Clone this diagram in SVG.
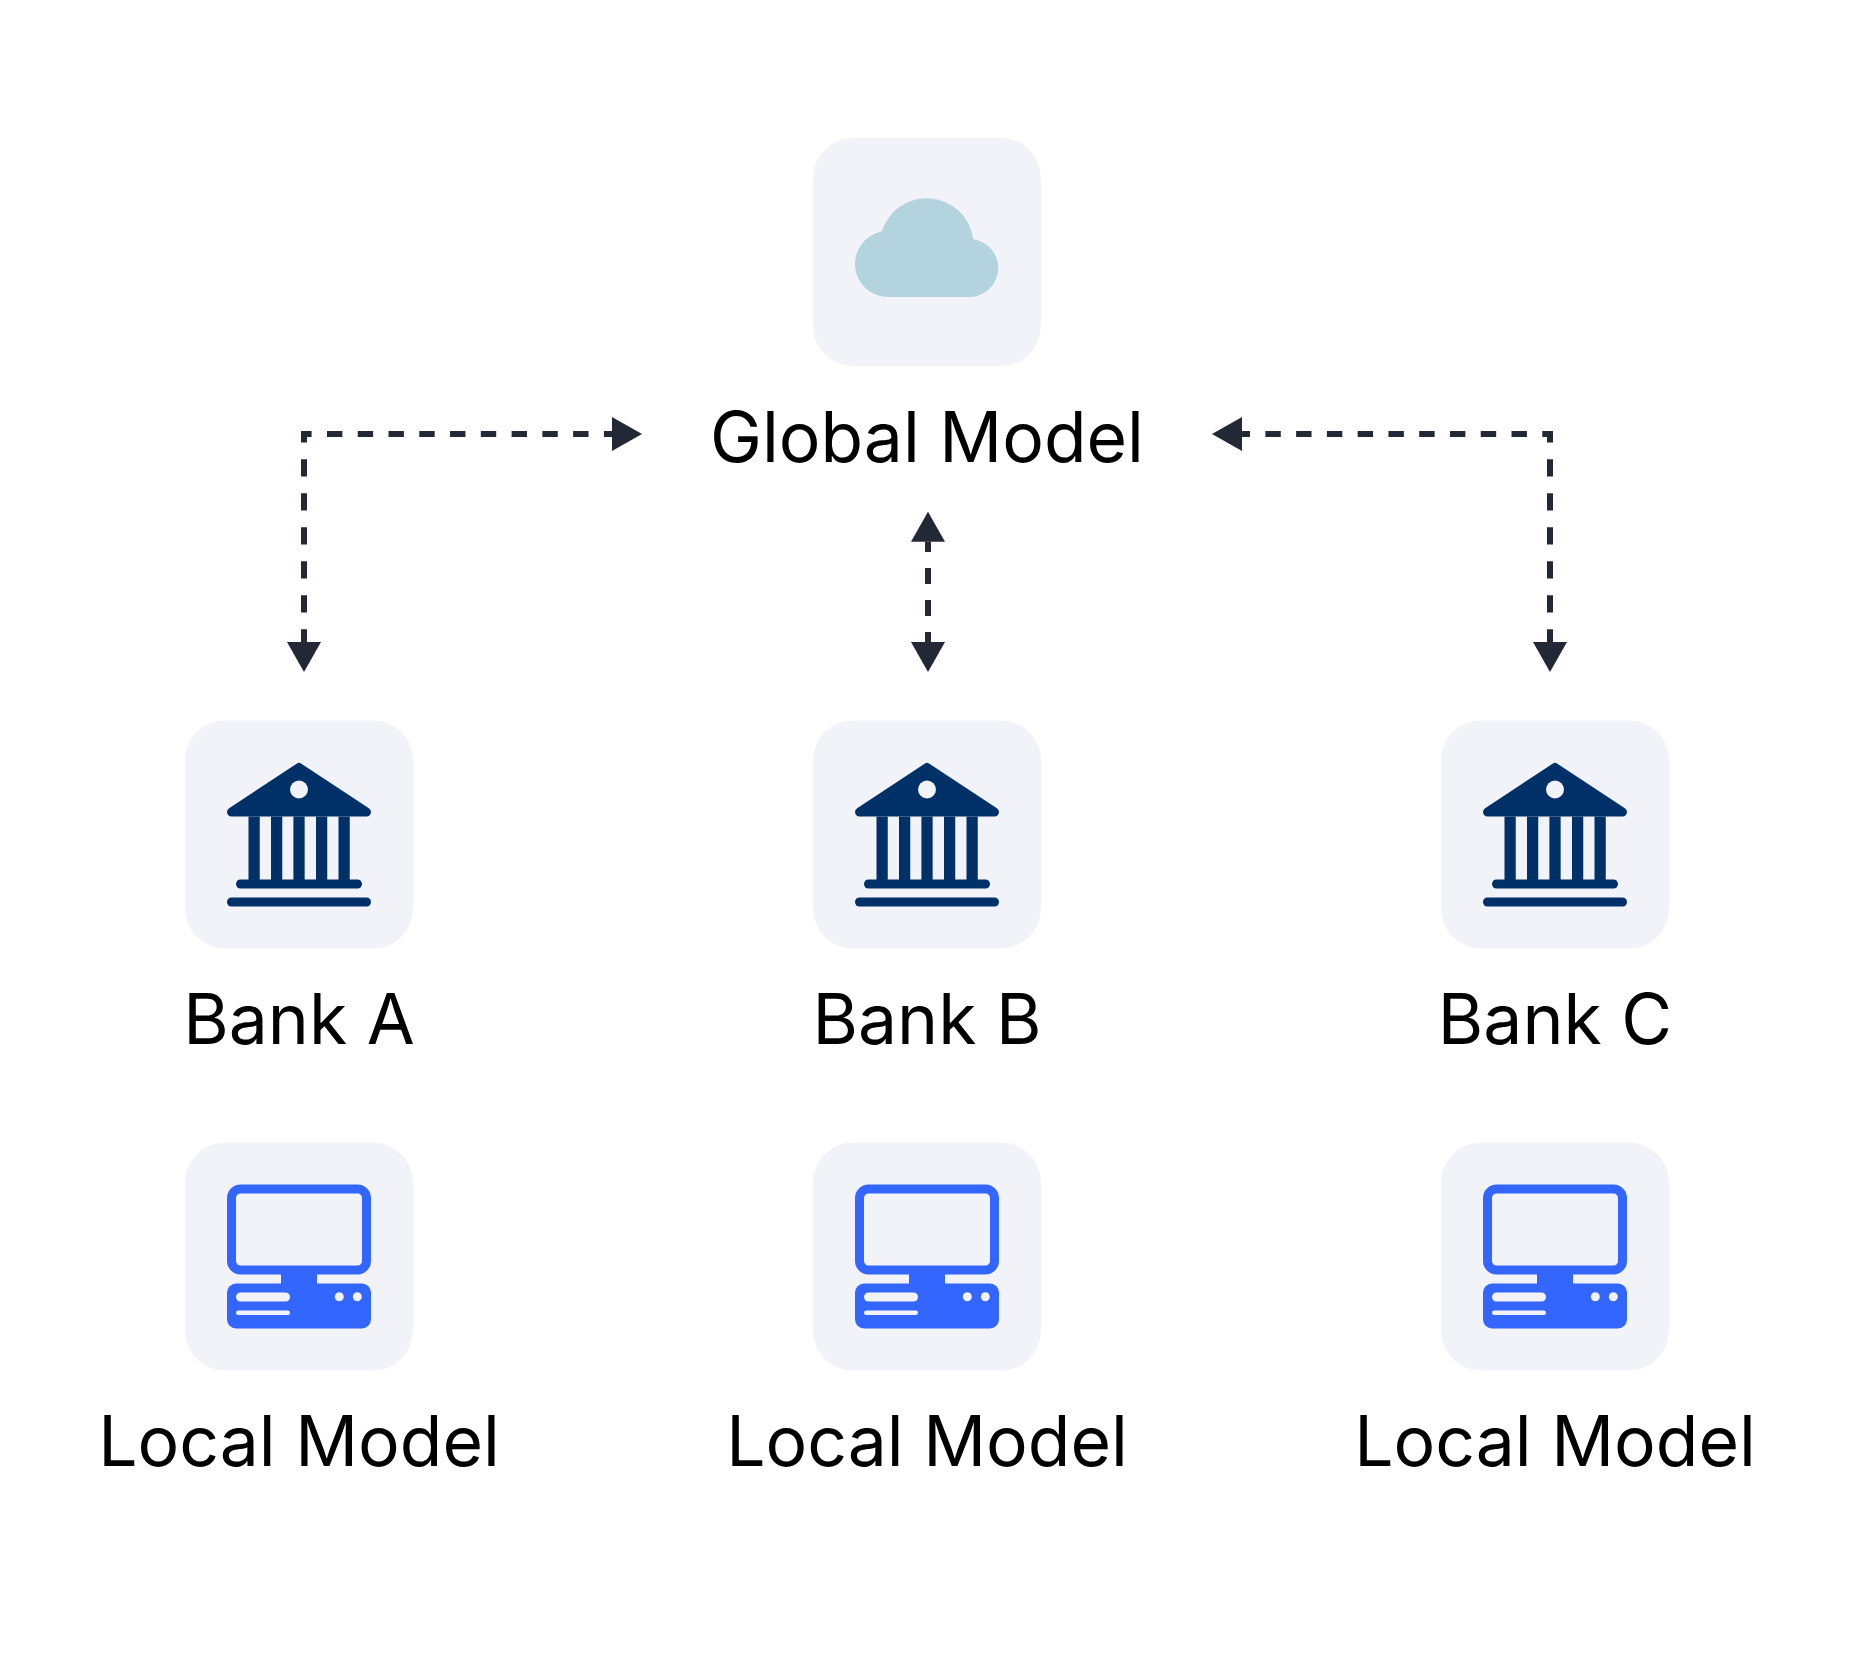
<svg xmlns="http://www.w3.org/2000/svg" width="1854" height="1654" viewBox="0 0 1854 1654">
<style>
.tile{fill:#f1f3f8}
.lbl{font-family:Inter,"Liberation Sans",sans-serif;font-size:69.6px;fill:#000;text-anchor:middle}
.bank{fill:#003068}
.bank .cut{fill:#f1f3f8}
.pc{fill:#3366ff}
.pc .cut{fill:#f1f3f8}
.conn{fill:none;stroke:#232836;stroke-width:6;marker-end:url(#ah)}
</style>
<defs>
<marker id="ah" markerUnits="userSpaceOnUse" viewBox="0 0 30 34" refX="0" refY="17" markerWidth="30" markerHeight="34" orient="auto-start-reverse"><path d="M0 0L30 17L0 34Z" fill="#232836"/></marker>
<g id="bankIcon" class="bank">
<path d="M70 43Q72 41.700 74 43L141.500 87.400Q144 89 144 91.500A4.500 4.500 0 0 1 139.500 96H4.500A4.500 4.500 0 0 1 0 91.500Q0 89 2.500 87.400Z"/>
<circle class="cut" cx="72" cy="69" r="9"/>
<rect x="21.500" y="96" width="11.250" height="64"/>
<rect x="44" y="96" width="11.250" height="64"/>
<rect x="66.400" y="96" width="11.250" height="64"/>
<rect x="89" y="96" width="11.250" height="64"/>
<rect x="111.500" y="96" width="11.250" height="64"/>
<rect x="9" y="159" width="126" height="9" rx="4.500"/>
<rect x="0" y="177" width="144" height="9" rx="4.500"/>
</g>
<g id="pcIcon" class="pc">
<rect x="4.500" y="46.500" width="135" height="81" rx="9" fill="none" stroke="#3366ff" stroke-width="9"/>
<rect x="54" y="130" width="36" height="13"/>
<rect x="0" y="141" width="144" height="45" rx="9"/>
<rect class="cut" x="9" y="150" width="54" height="9" rx="4.500"/>
<rect class="cut" x="9" y="168" width="54" height="4.500" rx="2.250"/>
<circle class="cut" cx="112.300" cy="154.300" r="4.500"/>
<circle class="cut" cx="130.300" cy="154.300" r="4.500"/>
</g>
</defs>
<rect width="1854" height="1654" fill="#fff"/>
<g id="connectors">
<path class="conn" d="M301 434H612" stroke-dasharray="15.400 15.370" stroke-dashoffset="4.800"/>
<path class="conn" d="M304 431V642" stroke-dasharray="17.200 16.800" stroke-dashoffset="5.700"/>
<path class="conn" d="M928 541.700V642" stroke-dasharray="16 16" stroke-dashoffset="5.700" style="marker-start:url(#ah)"/>
<path class="conn" d="M1553 434H1242" stroke-dasharray="15.400 15.370" stroke-dashoffset="4.700"/>
<path class="conn" d="M1550 431V642" stroke-dasharray="17.200 16.800" stroke-dashoffset="5.700"/>
</g>
<g id="global-model">
<rect class="tile" x="813" y="138" width="228" height="228" rx="40"/>
<path d="M881.700 231.600A47 47 0 0 1 973.300 239.300A29 29 0 0 1 970 297H888A33 33 0 0 1 881.700 231.600Z" fill="#b3d4df"/>
<text class="lbl" x="927" y="462">Global Model</text>
</g>
<g id="bank-a"><rect class="tile" x="185" y="720.500" width="228" height="228" rx="40"/><use href="#bankIcon" x="227" y="720.500"/><text class="lbl" x="299" y="1044">Bank A</text></g>
<g id="bank-b"><rect class="tile" x="813" y="720.500" width="228" height="228" rx="40"/><use href="#bankIcon" x="855" y="720.500"/><text class="lbl" x="927" y="1044">Bank B</text></g>
<g id="bank-c"><rect class="tile" x="1441" y="720.500" width="228" height="228" rx="40"/><use href="#bankIcon" x="1483" y="720.500"/><text class="lbl" x="1555" y="1044">Bank C</text></g>
<g id="local-a"><rect class="tile" x="185" y="1142.500" width="228" height="228" rx="40"/><use href="#pcIcon" x="227" y="1142.500"/><text class="lbl" x="299" y="1466">Local Model</text></g>
<g id="local-b"><rect class="tile" x="813" y="1142.500" width="228" height="228" rx="40"/><use href="#pcIcon" x="855" y="1142.500"/><text class="lbl" x="927" y="1466">Local Model</text></g>
<g id="local-c"><rect class="tile" x="1441" y="1142.500" width="228" height="228" rx="40"/><use href="#pcIcon" x="1483" y="1142.500"/><text class="lbl" x="1555" y="1466">Local Model</text></g>
</svg>
